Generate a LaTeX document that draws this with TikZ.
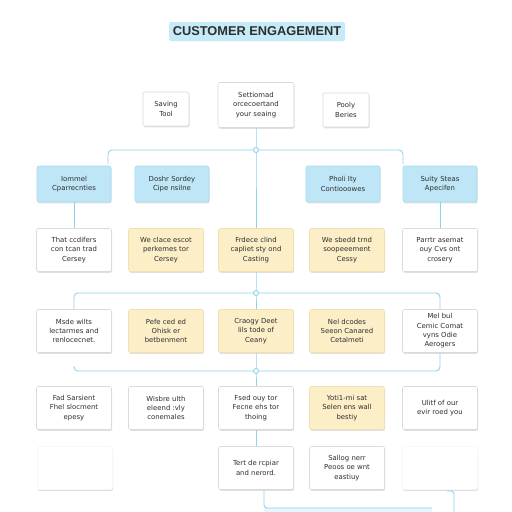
\documentclass[tikz,border=0pt]{standalone}
\usepackage{fontspec}
\setmainfont{DejaVu Sans}
\newfontfamily\titlefont{Liberation Sans}
\usetikzlibrary{shadows}
\definecolor{linec}{HTML}{8FD3EB}
\definecolor{bluef}{HTML}{BEE6F7}
\definecolor{blued}{HTML}{A9DBF0}
\definecolor{yelf}{HTML}{FCEFC8}
\definecolor{yeld}{HTML}{F1E0B0}
\definecolor{grayd}{HTML}{DADADA}
\definecolor{faintd}{HTML}{F7F7F7}
\definecolor{txt}{HTML}{2E2E2E}
\definecolor{titlef}{HTML}{C6EBF8}
\definecolor{stripc}{HTML}{E6F7FC}
\begin{document}
\begin{tikzpicture}[x=1pt,y=-1pt,
  box/.style={rectangle, rounded corners=2pt, draw=grayd, fill=white, line width=0.6pt,
    minimum width=75pt, minimum height=43pt, inner sep=1pt, align=center,
    font=\fontsize{6.9}{9.3}\selectfont, text=txt,
    drop shadow={shadow xshift=0.6pt, shadow yshift=-1.4pt, opacity=0.12, fill=black}},
  bluebox/.style={box, fill=bluef, draw=blued, minimum width=74pt, minimum height=36pt},
  yelbox/.style={box, fill=yelf, draw=yeld},
  faintbox/.style={box, draw=faintd, drop shadow={shadow xshift=0.3pt, shadow yshift=-0.8pt, opacity=0.025, fill=black}},
  smallbox/.style={box, minimum width=46pt, minimum height=34pt},
  conn/.style={draw=linec, line width=0.9pt},
  junc/.style={circle, draw=linec, fill=white, line width=0.9pt, minimum size=5pt, inner sep=0pt}
]
\useasboundingbox (0,0) rectangle (512,512);
\fill[white] (0,0) rectangle (512,512);

% title
\node[rectangle, rounded corners=1.5pt, fill=titlef, minimum width=176pt, minimum height=19pt, inner sep=0pt,
  font=\titlefont\bfseries\fontsize{12.8}{14}\selectfont, text=txt] (title) at (257,31.5) {CUSTOMER ENGAGEMENT};

% row 0
\node[smallbox] (t0a) at (166,109) {Saving\\Tool};
\node[box, minimum width=76pt, minimum height=45pt] (t0b) at (256,105) {Settiomad\\orcecoertand\\your seaing};
\node[smallbox] (t0c) at (346,110) {Pooly\\Beries};

% row 1
\node[bluebox] (r1a) at (74,184) {Iommel\\Cparrecnties};
\node[bluebox] (r1b) at (172,184) {Doshr Sordey\\Cipe nsilne};
\node[bluebox] (r1c) at (343,184) {Pholi Ity\\Contiooowes};
\node[bluebox] (r1d) at (440,184) {Suity Steas\\Apecifen};

% row 2
\node[box] (r2c1) at (74,250) {That ccdifers\\con tcan trad\\Cersey};
\node[yelbox] (r2c2) at (166,250) {We clace escot\\perkemes tor\\Cersey};
\node[yelbox] (r2c3) at (256,250) {Frdece clind\\capliet sty ond\\Casting};
\node[yelbox] (r2c4) at (347,250) {We sbedd trnd\\soopeeement\\Cessy};
\node[box] (r2c5) at (440,250) {Parrtr asemat\\ouy Cvs ont\\crosery};

% row 3
\node[box] (r3c1) at (74,331) {Msde wilts\\lectarmes and\\renlocecnet.};
\node[yelbox] (r3c2) at (166,331) {Pefe ced ed\\Ohisk er\\betbenment};
\node[yelbox] (r3c3) at (256,331) {Craogy Deet\\lils tode of\\Ceany};
\node[yelbox] (r3c4) at (347,331) {Nel dcodes\\Seeon Canared\\Cetalmeti};
\node[box] (r3c5) at (440,331) {Mel bul\\Cemic Comat\\vyns Odie\\Aerogers};

% row 4
\node[box] (r4c1) at (74,408) {Fad Sarsient\\Fhel slocment\\epesy};
\node[box] (r4c2) at (166,408) {Wisbre ulth\\eleend :vly\\conemales};
\node[box] (r4c3) at (256,408) {Fsed ouy tor\\Fecne ehs tor\\thoing};
\node[yelbox] (r4c4) at (347,408) {Yoti1-mi sat\\Selen ens wall\\bestiy};
\node[box] (r4c5) at (440,408) {Ulitf of our\\evir roed you};

% row 5
\node[faintbox] (r5c1) at (75,468) {};
\node[box] (r5c3) at (256,468) {Tert de rcpiar\\and nerord.};
\node[box] (r5c4) at (347,468) {Sallog nerr\\Peoos oe wnt\\eastiuy};
\node[faintbox] (r5c5) at (440,468) {};

% junctions and bus ends
\coordinate (j1) at (256,150);
\coordinate (b1l) at (108,164);
\coordinate (b1r) at (403,164);
\coordinate (j2) at (256,293);
\coordinate (j3) at (256,371);
\coordinate (b3l) at (74,366);
\coordinate (bot1) at (432,508);
\coordinate (hk1) at (447,491);
\coordinate (hk2) at (454,491);
\coordinate (hk3) at (454,512);

% bottom strip
\fill[stripc] (264,508) rectangle (432,512);

% connectors
\draw[conn] (t0b.south) -- (j1) -- (r2c3.north);
\draw[conn, rounded corners=4pt] (b1l) |- (j1) -| (b1r);
\draw[conn] (r1a.south) -- (r2c1.north);
\draw[conn] (r1d.south) -- (r2c5.north);
\draw[conn] (r2c3.south) -- (j2) -- (r3c3.north);
\draw[conn, rounded corners=4pt] (r3c1.north) |- (j2) -| (r3c5.north);
\draw[conn] (r3c3.south) -- (j3) -- (r4c3.north);
\draw[conn, rounded corners=4pt] (b3l) |- (j3) -| (r3c5.south);
\draw[conn] (r4c3.south) -- (r5c3.north);
\draw[conn, rounded corners=3pt] ([xshift=8pt]r5c3.south) |- (bot1);
\draw[conn, rounded corners=3pt] (hk1) -- (hk2) -- (hk3);

\node[junc] at (j1) {};
\node[junc] at (j2) {};
\node[junc] at (j3) {};
\end{tikzpicture}
\end{document}
